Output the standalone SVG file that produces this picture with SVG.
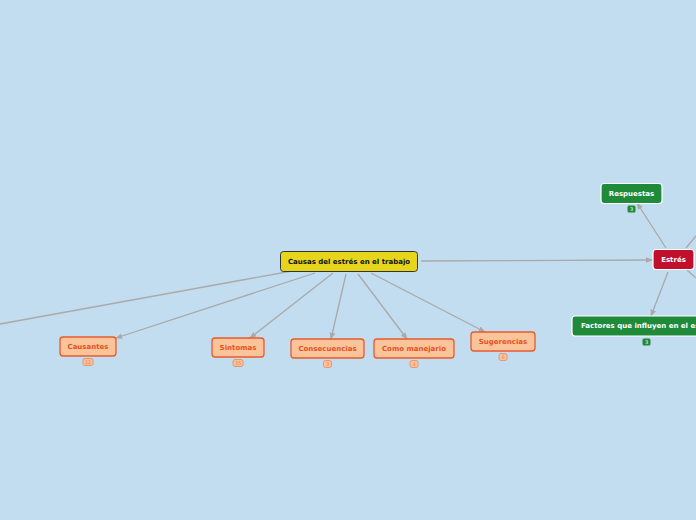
<svg xmlns="http://www.w3.org/2000/svg" width="696" height="520" viewBox="0 0 696 520">
<defs>
<marker id="arr" viewBox="0 0 10 10" refX="9" refY="5" markerWidth="7" markerHeight="7" orient="auto" markerUnits="userSpaceOnUse">
<path d="M0,1 L10,5 L0,9 z" fill="#a9a9a9"/>
</marker>
<style>
text{font-family:"DejaVu Sans","Liberation Sans",sans-serif;font-weight:bold;text-anchor:middle;dominant-baseline:central}
.e{stroke:#a9a9a9;stroke-width:1.3;fill:none}
.o rect.b{fill:#fac49a;stroke:#e85a2c;stroke-width:1.3}
.o text.t{fill:#e85022;font-size:7px}
.o rect.k{fill:#fac49a;stroke:#e8875a;stroke-width:0.8}
.o text.n{fill:#e8875a;font-size:5px;font-weight:normal}
.g rect.b{fill:#1e8a3a;stroke:#ffffff;stroke-width:1.2}
.g text.t{fill:#ffffff;font-size:7px}
.g rect.k{fill:#1e8a3a}
.g text.n{fill:#ffffff;font-size:5px;font-weight:normal}
</style>
</defs>
<rect width="696" height="520" fill="#c2ddf0"/>
<g id="connectors">
<path class="e" d="M421,261 L652,260" marker-end="url(#arr)"/>
<path class="e" d="M292,271 L0,324"/>
<path class="e" d="M315,273 L116,338" marker-end="url(#arr)"/>
<path class="e" d="M333,273 L250,338" marker-end="url(#arr)"/>
<path class="e" d="M346,274 L331,339" marker-end="url(#arr)"/>
<path class="e" d="M358,274 L407,339" marker-end="url(#arr)"/>
<path class="e" d="M371,273 L485,332" marker-end="url(#arr)"/>
<path class="e" d="M666,248 L637,203" marker-end="url(#arr)"/>
<path class="e" d="M686,248 L696,236"/>
<path class="e" d="M687,270 L696,278"/>
<path class="e" d="M668,272 L651,316" marker-end="url(#arr)"/>
</g>
<g id="central">
<rect x="280.5" y="251.5" width="137" height="20" rx="3" fill="#e6d51a" stroke="#333" stroke-width="1"/>
<text x="349" y="261.5" font-size="7" fill="#111">Causas del estrés en el trabajo</text>
</g>
<g id="estres">
<rect x="653" y="249.5" width="41" height="20" rx="3" fill="#c0102c" stroke="#ffffff" stroke-width="1.2"/>
<text x="673.5" y="259.5" font-size="7" fill="#fff">Estrés</text>
</g>
<g id="respuestas" class="g">
<rect class="b" x="601" y="183.5" width="61" height="20" rx="3"/>
<text class="t" x="631.5" y="193.5">Respuestas</text>
<rect class="k" x="627.5" y="205.5" width="8" height="7" rx="1.5"/>
<text class="n" x="631.5" y="209">3</text>
</g>
<g id="factores" class="g">
<rect class="b" x="572" y="316" width="134" height="20" rx="3"/>
<text class="t" x="581" y="326" style="text-anchor:start">Factores que influyen en el estrés</text>
<rect class="k" x="642.5" y="338.5" width="8" height="7" rx="1.5"/>
<text class="n" x="646.5" y="342">3</text>
</g>
<g id="causantes" class="o">
<rect class="b" x="60" y="337" width="56" height="19" rx="3"/>
<text class="t" x="88" y="346.5">Causantes</text>
<rect class="k" x="83" y="358.5" width="10" height="7" rx="2"/>
<text class="n" x="88" y="362">12</text>
</g>
<g id="sintomas" class="o">
<rect class="b" x="212" y="338" width="52" height="19" rx="3"/>
<text class="t" x="238" y="347.5">Sintomas</text>
<rect class="k" x="233" y="359.5" width="10" height="7" rx="2"/>
<text class="n" x="238" y="363">35</text>
</g>
<g id="consecuencias" class="o">
<rect class="b" x="291" y="339" width="73" height="19" rx="3"/>
<text class="t" x="327.5" y="348.5">Consecuencias</text>
<rect class="k" x="323.5" y="360.5" width="8" height="7" rx="2"/>
<text class="n" x="327.5" y="364">3</text>
</g>
<g id="como" class="o">
<rect class="b" x="374" y="339" width="80" height="19" rx="3"/>
<text class="t" x="414" y="348.5">Como manejario</text>
<rect class="k" x="410" y="360.5" width="8" height="7" rx="2"/>
<text class="n" x="414" y="364">4</text>
</g>
<g id="sugerencias" class="o">
<rect class="b" x="471" y="332" width="64" height="19" rx="3"/>
<text class="t" x="503" y="341.5">Sugerencias</text>
<rect class="k" x="499" y="353.5" width="8" height="7" rx="2"/>
<text class="n" x="503" y="357">8</text>
</g>
</svg>
